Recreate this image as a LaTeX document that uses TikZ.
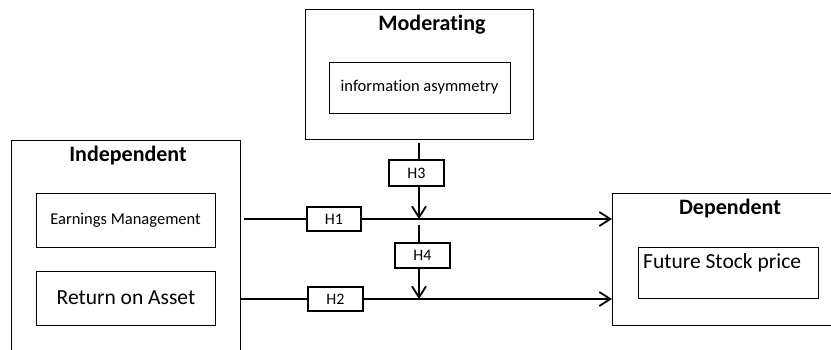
\documentclass[tikz,border=0pt]{standalone}
\usepackage{fontspec}
\setmainfont{Carlito}[Ligatures=NoCommon]
\usetikzlibrary{arrows.meta}

\begin{document}
\begin{tikzpicture}[x=1pt,y=-1pt,
	groupbox/.style={draw, line width=0.9pt, anchor=north west, inner sep=0pt},
	varbox/.style={draw, line width=0.9pt, inner sep=0pt},
	hbox/.style={draw, line width=1.8pt, inner sep=0pt, minimum width=54, minimum height=24, font=\fontsize{16}{18}\selectfont},
	heading/.style={font=\fontsize{22}{25}\selectfont\bfseries},
	link/.style={line width=1.8pt},
	arrowlink/.style={line width=1.8pt, -{Straight Barb[length=11pt,width=14pt,line width=1.8pt]}}]
	\clip (0,0) rectangle (831,349);
	% outer groups
	\node[groupbox, minimum width=229, minimum height=230] (indep) at (11,140) {};
	\node[heading] (indeptitle) at (128,156) {Independent};
	\node[groupbox, minimum width=228, minimum height=130] (mod) at (305,9) {};
	\node[heading] (modtitle) at (432,25) {Moderating};
	\node[groupbox, minimum width=240, minimum height=132] (dep) at (612,193) {};
	\node[heading] (deptitle) at (730,209) {Dependent};
	% variables
	\node[varbox, minimum width=179, minimum height=54, font=\fontsize{16.5}{18}\selectfont] (em) at (125.5,220) {Earnings Management};
	\node[varbox, minimum width=179, minimum height=54, font=\fontsize{21.5}{24}\selectfont] (roa) at (126,298) {Return on Asset};
	\node[varbox, minimum width=181, minimum height=51, font=\fontsize{16.5}{18}\selectfont] (ia) at (419.5,87.5) {information asymmetry};
	\node[varbox, minimum width=180, minimum height=51] (fsp) at (728,272.5) {};
	\node[anchor=west, inner sep=0pt, font=\fontsize{21.5}{24}\selectfont] (fsptext) at (643,263) {Future Stock price};
	% hypotheses
	\node[hbox] (h1) at (334,219) {H1};
	\node[hbox, minimum width=55] (h2) at (335.5,299) {H2};
	\node[hbox, minimum width=55, minimum height=26] (h3) at (416.5,173) {H3};
	\node[hbox, minimum width=55, minimum height=25] (h4) at (422.5,255.5) {H4};
	% connectors
	\coordinate (h1start) at (244,219);
	\coordinate (h2start) at (241,299);
	\coordinate (h3top) at (419,143);
	\coordinate (h4top) at (419,225);
	\draw[link] (h1start) -- (h1.west);
	\draw[arrowlink] (h1.east) -- (h1 -| dep.west);
	\draw[link] (h2start) -- (h2.west);
	\draw[arrowlink] (h2.east) -- (h2 -| dep.west);
	\draw[link] (h3top) -- (h3top |- h3.north);
	\draw[arrowlink] (h3top |- h3.south) -- (h3top |- h1);
	\draw[link] (h4top) -- (h4top |- h4.north);
	\draw[arrowlink] (h4top |- h4.south) -- (h4top |- h2);
\end{tikzpicture}
\end{document}
